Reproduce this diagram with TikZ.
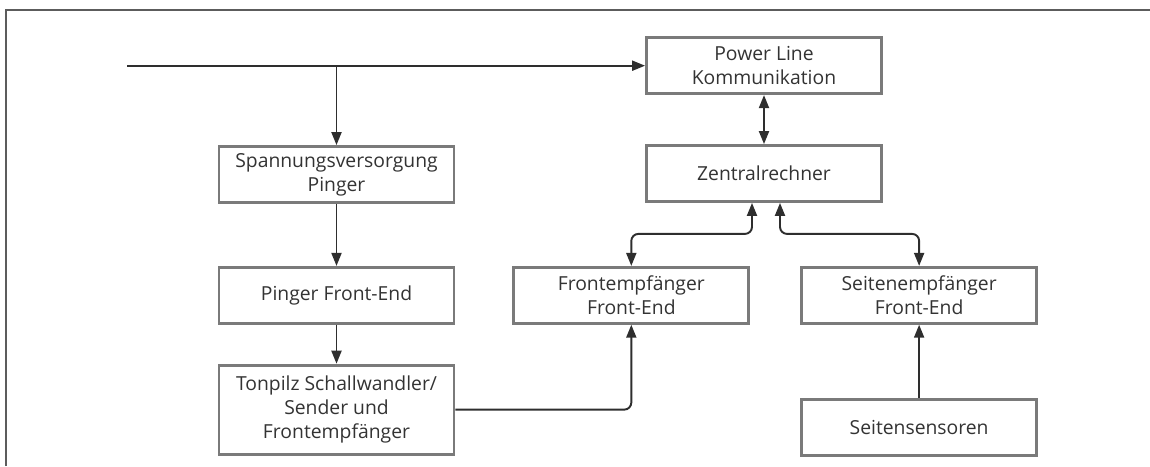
\documentclass[tikz,border=0pt]{standalone}
\usepackage{fontspec}
\setmainfont{Open Sans}
\usepackage{xcolor}
\usetikzlibrary{arrows.meta,positioning,calc}

\definecolor{boxgray}{HTML}{7A7A7A}
\definecolor{txtgray}{HTML}{333333}
\definecolor{arrgray}{HTML}{2E2E2E}
\definecolor{framegray}{HTML}{5C5C5C}

\tikzset{
  block/.style={rectangle, draw=boxgray, line width=1.6pt, minimum width=4.7cm, minimum height=1.12cm,
    align=center, text=txtgray, font=\fontsize{11}{13.7}\selectfont, inner sep=2pt},
  arr/.style={draw=arrgray, line width=1.1pt, -{Triangle[length=0.26cm, width=0.2cm]}},
  dbl/.style={draw=arrgray, line width=1.1pt, {Triangle[length=0.26cm, width=0.2cm]}-{Triangle[length=0.26cm, width=0.2cm]}},
}

\begin{document}
\begin{tikzpicture}
\useasboundingbox (0,0) rectangle (23,-9.32);
\draw[framegray, line width=1.3pt] (0.12,-9.32) -- (0.12,-0.2) -- (23,-0.2);

% central column
\node[block] (zentral) at (15.28,-3.47) {Zentralrechner};
\node[block, above=0.98cm of zentral] (plc) {Power Line\\Kommunikation};

% pinger column
\node[block] (spann) at (6.73,-3.49) {Spannungsversorgung\\Pinger};
\node[block, below=1.24cm of spann] (pfe) {Pinger Front-End};
\node[block, below=0.78cm of pfe, minimum height=1.78cm] (tonpilz) {Tonpilz Schallwandler/\\Sender und\\Frontempf\"anger};

% receivers
\node[block, right=1.14cm of pfe] (fe) {Frontempf\"anger\\Front-End};
\node[block, right=1cm of fe] (se) {Seitenempf\"anger\\Front-End};
\node[block, below=1.46cm of se] (sens) {Seitensensoren};

\coordinate[left=10.36cm of plc.west] (in);

\draw[arr] (in) -- (plc.west);
\draw[arr] (in -| spann.north) -- (spann.north);
\draw[arr] (spann) -- (pfe);
\draw[arr] (pfe) -- (tonpilz);
\draw[dbl] (plc) -- (zentral);
\draw[dbl, rounded corners=4pt] ([xshift=-0.24cm]zentral.south) -- ++(0,-0.62) -| (fe.north);
\draw[dbl, rounded corners=4pt] ([xshift=0.32cm]zentral.south) -- ++(0,-0.62) -| (se.north);
\draw[arr, rounded corners=4pt] (tonpilz.east) -| (fe.south);
\draw[arr] (sens) -- (se);
\end{tikzpicture}
\end{document}
